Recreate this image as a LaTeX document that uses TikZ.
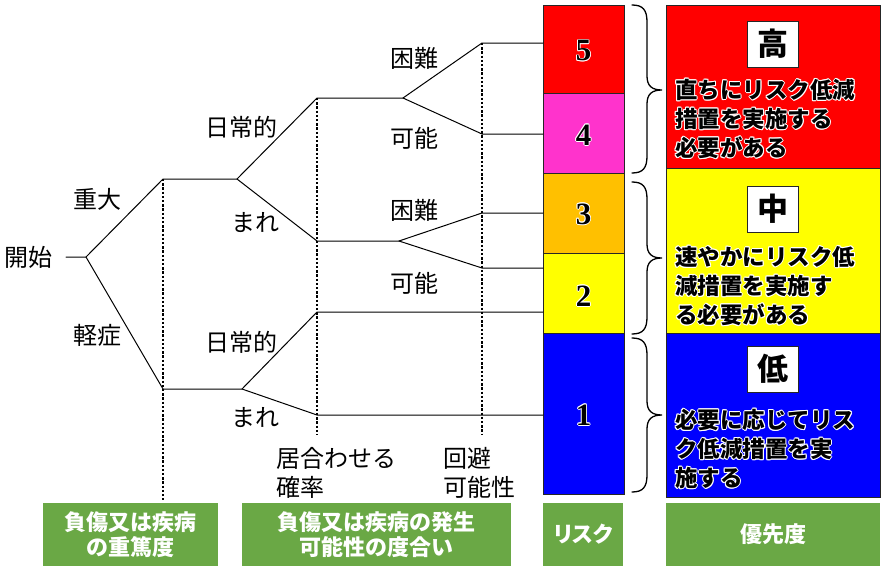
\documentclass[tikz,border=0pt]{standalone}
\usepackage{fontspec}
\setmainfont{Liberation Serif}
\newfontfamily\jp{Noto Sans CJK JP}
\newfontfamily\jpp[RawFeature=+palt]{Noto Sans CJK JP}
\definecolor{rred}{RGB}{255,0,0}
\definecolor{rpink}{RGB}{255,51,204}
\definecolor{rorange}{RGB}{255,192,0}
\definecolor{ryellow}{RGB}{255,255,0}
\definecolor{rblue}{RGB}{0,0,255}
\definecolor{ggreen}{RGB}{106,168,69}
% thin white halo behind a text: #1 style, #2 position (x,y), #3 text
\newcommand\halobg[3][]{%
  \foreach \hx/\hy in {0.9/0,-0.9/0,0/0.9,0/-0.9,0.64/0.64,-0.64/0.64,0.64/-0.64,-0.64/-0.64}%
    {\node[#1, text=white] at ([shift={(\hx,\hy)}]#2) {#3};}}
\begin{document}
\begin{tikzpicture}[x=1pt,y=-1pt,
  lbl/.style={font=\jp\fontsize{24}{29}\selectfont, inner sep=0pt},
  branch/.style={line width=1pt, line cap=round, line join=round},
  dotline/.style={line width=2.6pt, dash pattern=on 2.4pt off 1.8pt},
  riskbox/.style={draw=black!85, line width=0.8pt, minimum width=81pt, inner sep=0pt, anchor=north west},
  prbox/.style={draw=black!85, line width=0.8pt, minimum width=214pt, inner sep=0pt, anchor=north west},
  numtxt/.style={font=\bfseries\fontsize{31}{31}\selectfont, inner sep=0pt},
  levbox/.style={draw=black!85, line width=0.8pt, fill=white, minimum width=51pt, minimum height=46pt, inner sep=0pt, font=\jp\bfseries\fontsize{31}{31}\selectfont},
  ptext/.style={anchor=west, align=left, inner sep=0pt, font=\jp\bfseries\fontsize{22.5}{29}\selectfont},
  gbox/.style={fill=ggreen, text=white, align=center, inner sep=0pt, minimum height=63pt, font=\jp\bfseries\fontsize{22}{25}\selectfont},
  bracestyle/.style={line width=1.3pt, line cap=round}
]
\useasboundingbox (0,0) rectangle (884,570);
\fill[white] (0,0) rectangle (884,570);

% risk column
\node[riskbox, fill=rred, minimum height=88pt] (r5) at (543,5) {};
\node[riskbox, fill=rpink, minimum height=80pt] (r4) at (543,93) {};
\node[riskbox, fill=rorange, minimum height=80pt] (r3) at (543,173) {};
\node[riskbox, fill=ryellow, minimum height=80pt] (r2) at (543,253) {};
\node[riskbox, fill=rblue, minimum height=161pt] (r1) at (543,333) {};

% priority column
\node[prbox, fill=rred, minimum height=163pt] (p3) at (666,5) {};
\node[prbox, fill=ryellow, minimum height=165pt] (p2) at (666,168) {};
\node[prbox, fill=rblue, minimum height=164pt] (p1) at (666,333) {};
\node[levbox] (lh) at (772.5,44) {高};
\node[levbox] (lm) at (772.5,209) {中};
\node[levbox] (ll) at (772.5,369) {低};

% white halos
\halobg[numtxt]{583.5,51}{5}
\halobg[numtxt]{583.5,135}{4}
\halobg[numtxt]{583.5,214}{3}
\halobg[numtxt]{583.5,296}{2}
\halobg[numtxt]{583.5,415}{1}
\halobg[ptext]{675,119}{直ちにリスク低減\\措置を実施する\\必要がある}
\halobg[ptext]{675,286}{速やかにリスク低\\減措置を実施す\\る必要がある}
\halobg[ptext]{675,449}{必要に応じてリス\\ク低減措置を実\\施する}

% black texts
\node[numtxt, text=black] (n5) at (583.5,51) {5};
\node[numtxt, text=black] (n4) at (583.5,135) {4};
\node[numtxt, text=black] (n3) at (583.5,214) {3};
\node[numtxt, text=black] (n2) at (583.5,296) {2};
\node[numtxt, text=black] (n1) at (583.5,415) {1};
\node[ptext, text=black] (t3) at (675,119) {直ちにリスク低減\\措置を実施する\\必要がある};
\node[ptext, text=black] (t2) at (675,286) {速やかにリスク低\\減措置を実施す\\る必要がある};
\node[ptext, text=black] (t1) at (675,449) {必要に応じてリス\\ク低減措置を実\\施する};

% braces
\draw[bracestyle] (632,5) .. controls (643,5) and (647,10) .. (647,22) -- (647,76)
  .. controls (647,86) and (652,90) .. (662,90) .. controls (652,90) and (647,94) .. (647,104)
  -- (647,156) .. controls (647,168) and (643,173) .. (632,173);
\draw[bracestyle] (632,182) .. controls (643,182) and (647,187) .. (647,199) -- (647,244)
  .. controls (647,254) and (652,258) .. (662,258) .. controls (652,258) and (647,262) .. (647,272)
  -- (647,317) .. controls (647,329) and (643,334) .. (632,334);
\draw[bracestyle] (632,338) .. controls (643,338) and (647,343) .. (647,355) -- (647,401)
  .. controls (647,411) and (652,415) .. (662,415) .. controls (652,415) and (647,419) .. (647,429)
  -- (647,475) .. controls (647,487) and (643,492) .. (632,492);

% tree
\coordinate (s0) at (66,257); \coordinate (s) at (86,257);
\coordinate (a) at (163,179); \coordinate (a2) at (237,179);
\coordinate (b) at (163,389); \coordinate (b2) at (242,389);
\coordinate (c) at (317,98); \coordinate (c2) at (403,98);
\coordinate (d) at (317,241); \coordinate (d2) at (399,241);
\coordinate (e) at (317,312); \coordinate (f) at (317,415);
\coordinate (g5) at (482,43); \coordinate (g4) at (482,134);
\coordinate (g3) at (482,213); \coordinate (g2) at (482,268);
\coordinate (v1) at (163,500); \coordinate (v2) at (317,435); \coordinate (v3) at (482,435);

\draw[dotline] (a) -- (v1);
\draw[dotline] (c) -- (v2);
\draw[dotline] (g5) -- (v3);

\draw[branch] (s0) -- (s) -- (a) -- (a2) -- (c) -- (c2) -- (g5) -- (g5 -| r5.west);
\draw[branch] (s) -- (b) -- (b2) -- (e) -- (e -| r2.west);
\draw[branch] (a2) -- (d) -- (d2) -- (g3) -- (g3 -| r3.west);
\draw[branch] (c2) -- (g4) -- (g4 -| r4.west);
\draw[branch] (d2) -- (g2) -- (g2 -| r2.west);
\draw[branch] (b2) -- (f) -- (f -| r1.west);

% labels
\node[lbl] (kaishi) at (29,257) {開始};
\node[lbl] (juudai) at (97.5,199) {重大};
\node[lbl] (keishou) at (97.5,335) {軽症};
\node[lbl] (nichi1) at (241.5,127) {日常的};
\node[lbl] (mare1) at (255.5,223) {まれ};
\node[lbl] (nichi2) at (241.5,342) {日常的};
\node[lbl] (mare2) at (255.5,418) {まれ};
\node[lbl] (kon1) at (414.5,58) {困難};
\node[lbl] (ka1) at (414.5,138) {可能};
\node[lbl] (kon2) at (414.5,210) {困難};
\node[lbl] (ka2) at (414.5,283) {可能};
\node[lbl, anchor=west, align=left] (iawase) at (276,472.5) {居合わせる\\確率};
\node[lbl, anchor=west, align=left] (kaihi) at (443,472.5) {回避\\可能性};

% bottom green boxes
\node[gbox, minimum width=175pt] (gb1) at (130.5,534.5) {負傷又は疾病\\の重篤度};
\node[gbox, minimum width=269pt] (gb2) at (376.5,534.5) {負傷又は疾病の発生\\可能性の度合い};
\node[gbox, minimum width=80pt, font=\jpp\bfseries\fontsize{22}{25}\selectfont] (gb3) at (583,534) {リスク};
\node[gbox, minimum width=214pt] (gb4) at (773,534) {優先度};
\end{tikzpicture}
\end{document}
